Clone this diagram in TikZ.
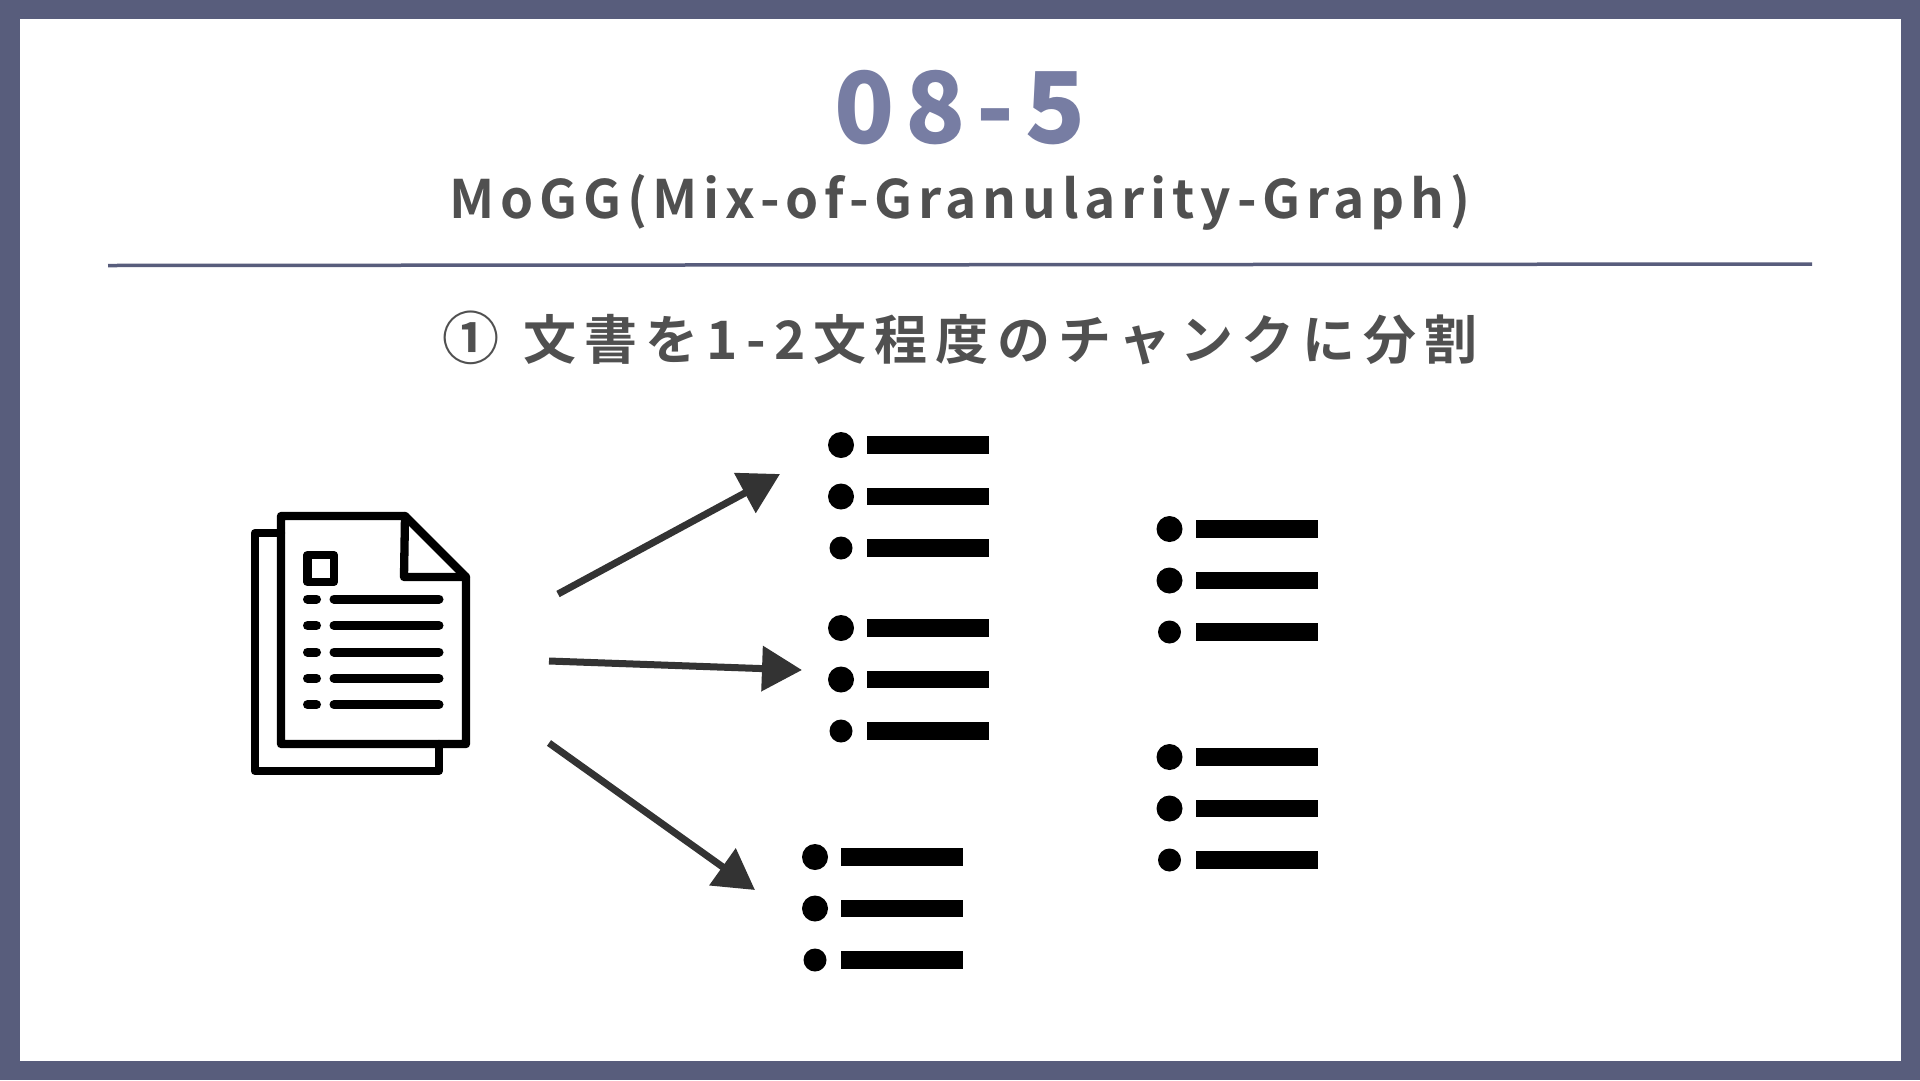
\documentclass[tikz,border=0pt]{standalone}
\usepackage{fontspec}
\usetikzlibrary{arrows.meta}
\newfontfamily\jpbig[LetterSpace=11]{Noto Sans CJK JP Black}
\newfontfamily\jpsub[LetterSpace=11]{Noto Sans CJK JP Bold}
\newfontfamily\jpstep[LetterSpace=15.4]{Noto Sans CJK JP Bold}
\definecolor{frame}{HTML}{585D7C}
\definecolor{titlec}{HTML}{777DA3}
\definecolor{textc}{HTML}{505050}
\definecolor{arrowc}{HTML}{333333}
\tikzset{
  px/.style={x=1pt,y=-1pt},
  iconline/.style={draw=black,line width=8.3pt,line join=round,line cap=round},
  txtline/.style={draw=black,line width=9pt,line cap=round},
  bulletdot/.style={fill=black,draw=none},
  listbar/.style={fill=black,draw=none},
  splitarrow/.style={draw=arrowc,line width=7pt,-{Triangle[length=40pt,width=44pt,fill=arrowc]}},
}
\newcommand{\chunklist}[2]{%
  \fill[bulletdot] (#1,#2) circle (13pt);
  \fill[bulletdot] (#1,#2+51.5) circle (13pt);
  \fill[bulletdot] (#1,#2+103) circle (11.5pt);
  \fill[listbar] (#1+26,#2-8.7) rectangle (#1+148,#2+8.7);
  \fill[listbar] (#1+26,#2+42.8) rectangle (#1+148,#2+60.2);
  \fill[listbar] (#1+26,#2+94.3) rectangle (#1+148,#2+111.7);
}
\begin{document}
\begin{tikzpicture}[px]
\useasboundingbox (0,0) rectangle (1920,1080);
\fill[frame] (0,0) rectangle (1920,1080);
\fill[white] (19.5,19) rectangle (1901,1061);
\node[text=titlec,inner sep=0pt,anchor=center,font=\fontsize{99pt}{99pt}\jpbig] (title) at (960,108) {08-5};
\node[text=textc,inner sep=0pt,anchor=center,font=\fontsize{53pt}{53pt}\jpsub] (sub) at (960,202) {MoGG(Mix-of-Granularity-Graph)};
\draw[frame,line width=3.5pt] (108,265.5) -- (1812,264);
\node[text=textc,inner sep=0pt,anchor=center,font=\fontsize{53pt}{53pt}\jpstep] (stepline) at (960,338) {{\fontsize{57pt}{57pt}\selectfont ①}\hspace{4pt} 文書を1-2文程度のチャンクに分割};
% document icon
\draw[iconline] (281,533) -- (255,533) -- (255,771) -- (439,771) -- (439,744);
\draw[iconline] (281,516) -- (405,516) -- (466,577) -- (466,744) -- (281,744) -- cycle;
\draw[iconline] (405,516) -- (404,577) -- (466,577);
\draw[iconline] (307.5,555) rectangle (334,582);
\foreach \yy in {599,625.5,652,678.3,704.7}{
  \draw[txtline] (307.5,\yy) -- (316.5,\yy);
  \draw[txtline] (334,\yy) -- (439,\yy);
}
% lists
\chunklist{841}{445}
\chunklist{841}{628}
\chunklist{815}{857}
\chunklist{1169.5}{529}
\chunklist{1169.5}{757}
% arrows
\coordinate (a1s) at (558,594); \coordinate (a1e) at (780,474);
\coordinate (a2s) at (549,661); \coordinate (a2e) at (802,670);
\coordinate (a3s) at (549,743); \coordinate (a3e) at (755,890);
\draw[splitarrow] (a1s) -- (a1e);
\draw[splitarrow] (a2s) -- (a2e);
\draw[splitarrow] (a3s) -- (a3e);
\end{tikzpicture}
\end{document}
